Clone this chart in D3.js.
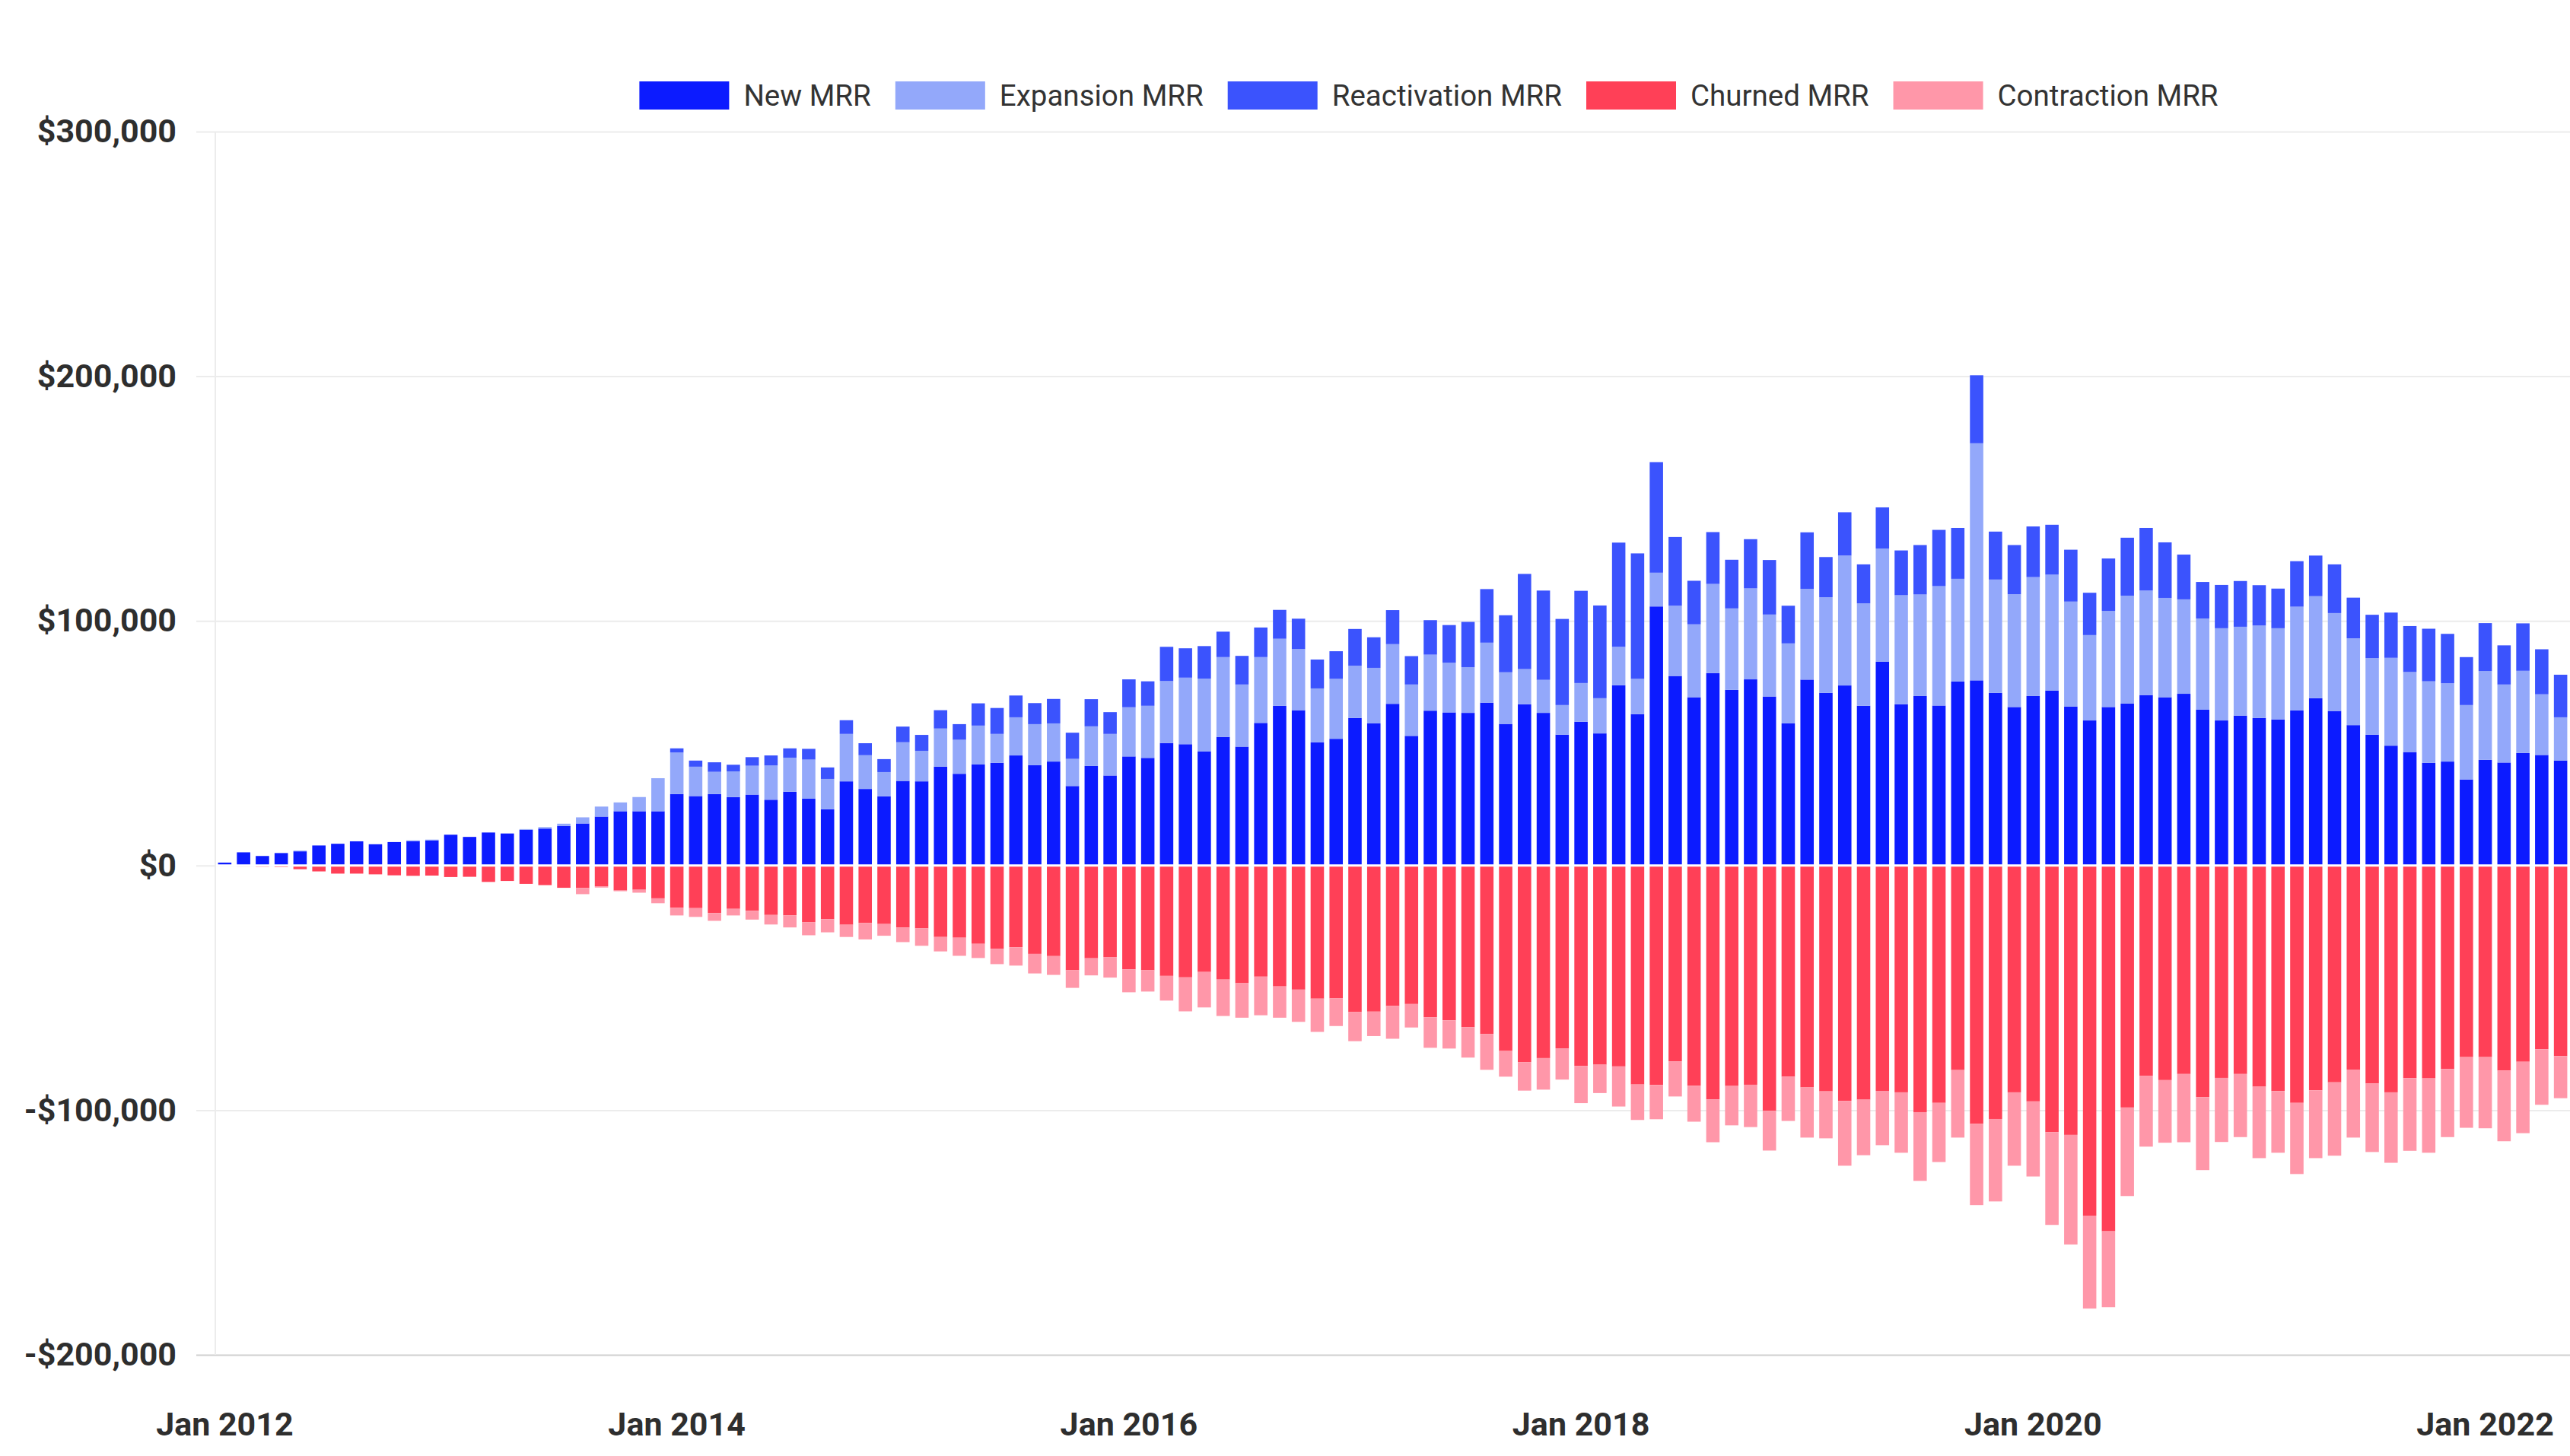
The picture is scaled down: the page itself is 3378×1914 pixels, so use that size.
<!DOCTYPE html>
<html><head><meta charset="utf-8">
<script src="https://cdn.jsdelivr.net/npm/d3@7"></script>
<style>
html,body{margin:0;padding:0;background:#fff;}
svg{display:block;}
</style></head>
<body>
<svg id="chart" width="3378" height="1914"></svg>
<script>
// ---- data (values in thousands of dollars, monthly from Jan 2012) ----
const startDate = new Date(2012, 0, 1);
const monthCount = 125;
const newMRR = [1.2,5.4,3.9,5.1,5.8,8.2,8.9,9.9,8.7,9.6,
 10.0,10.3,12.6,11.7,13.5,13.1,14.6,15.1,16.2,17.2,
 20.0,22.2,22.2,22.2,29.2,28.4,29.2,28.0,29.0,26.9,
 30.2,27.3,23.0,34.4,31.3,28.3,34.6,34.4,40.4,37.5,
 41.3,42.0,45.0,41.0,42.5,32.5,40.7,36.8,44.6,44.0,
 50.1,49.6,46.7,52.6,48.6,58.3,65.3,63.5,50.4,51.8,
 60.3,58.1,66.1,53.0,63.3,62.6,62.4,66.6,57.9,65.9,
 62.4,53.5,58.8,54.0,73.7,61.9,105.9,77.5,68.8,78.7,
 71.8,76.1,69.1,58.1,76.0,70.6,73.6,65.3,83.3,65.9,
 69.3,65.4,75.2,75.7,70.6,64.8,69.3,71.5,65.0,59.3,
 64.8,66.2,69.7,68.8,70.2,63.7,59.3,61.3,60.3,59.7,
 63.4,68.4,63.2,57.4,53.5,49.0,46.4,42.0,42.5,35.2,
 43.2,42.1,46.0,45.2,42.9];
const expansionMRR = [0,0,0,0,0.3,0,0,0,0,0,
 0.3,0.3,0,0,0,0,0.3,0.6,0.9,2.5,
 4.1,3.6,5.8,13.5,17.0,12.0,9.1,10.5,11.8,14.0,
 13.9,16.0,12.4,19.4,13.8,9.9,15.8,12.5,15.6,13.9,
 15.9,11.8,15.6,16.8,15.6,11.1,16.2,17.0,20.1,21.3,
 25.3,27.2,29.7,32.6,25.4,26.9,27.4,25.0,22.0,24.5,
 21.4,22.7,24.4,21.0,22.9,20.3,18.7,24.5,21.1,14.4,
 13.5,12.1,15.8,14.4,15.7,14.4,13.8,28.7,29.8,36.4,
 33.3,37.2,33.5,32.7,37.1,39.1,53.1,41.9,46.3,44.6,
 41.5,48.8,42.0,96.9,46.3,46.1,48.6,47.4,42.9,34.9,
 39.3,44.1,42.7,40.6,38.6,37.3,37.7,36.3,37.8,37.3,
 42.4,41.7,40.0,35.5,31.3,35.9,32.7,33.3,32.0,30.4,
 36.3,31.9,33.6,24.8,17.7];
const reactivationMRR = [0,0,0,0,0,0,0,0,0,0,
 0,0,0,0,0,0,0,0,0,0,
 0,0,0,0,1.7,2.5,3.9,2.7,3.5,4.1,
 3.8,4.4,4.7,5.6,4.9,5.3,6.4,6.5,7.5,6.4,
 9.1,10.6,8.9,8.6,10.0,10.7,11.1,8.9,11.4,10.0,
 14.0,12.0,13.3,10.4,11.7,12.1,11.8,12.4,11.8,11.3,
 15.0,12.5,13.9,11.6,14.1,15.4,18.5,21.9,23.3,38.9,
 36.5,35.2,37.7,37.9,42.6,51.3,45.2,28.1,17.8,21.2,
 19.9,20.1,22.3,15.4,23.1,16.4,17.7,15.9,16.8,18.3,
 20.2,23.0,20.8,27.8,19.6,20.1,20.7,20.4,21.2,17.3,
 21.4,23.7,25.6,22.7,18.3,14.9,17.7,18.7,16.5,16.2,
 18.6,16.6,19.9,16.6,17.7,18.5,18.8,21.5,20.2,19.6,
 19.6,16.0,19.4,18.4,17.4];
const churnedMRR = [0,0.4,0.1,0.6,1.5,2.4,3.3,3.3,3.6,4.0,
 4.2,4.1,4.7,4.6,6.7,6.3,7.5,8.0,9.1,9.2,
 8.5,10.2,9.9,13.4,17.2,17.4,19.4,17.7,18.5,20.2,
 20.4,23.2,21.9,24.2,23.5,23.9,25.3,25.7,29.2,29.5,
 32.0,34.0,33.4,36.1,37.0,42.8,37.9,37.4,42.4,42.8,
 45.1,45.7,43.5,46.6,48.1,45.4,49.4,50.7,54.4,54.3,
 59.9,59.7,57.4,56.6,62.0,63.3,66.1,68.9,75.8,80.4,
 78.7,74.7,81.9,81.4,82.1,89.5,89.7,80.0,90.0,95.6,
 90.1,89.6,100.3,86.3,90.7,92.3,96.2,95.7,92.1,92.7,
 100.8,97.0,83.6,105.6,103.6,92.7,96.4,109.0,110.1,143.1,
 149.5,98.9,85.9,87.7,85.2,94.7,86.8,85.2,90.4,92.2,
 97.0,91.9,88.6,83.4,89.1,92.7,86.9,87.0,83.2,78.3,
 78.3,83.8,80.2,75.1,77.9];
const contractionMRR = [0,0,0.5,0,0,0,0,0,0,0,
 0,0,0,0,0,0,0,0,0,2.5,
 0.5,0.3,1.2,2.0,3.2,3.6,3.2,2.7,3.6,3.9,
 4.9,5.3,5.4,5.0,6.7,4.8,6.0,7.1,5.9,7.4,
 5.8,6.3,7.5,8.0,7.7,7.2,7.0,8.4,9.4,8.7,
 10.1,13.9,14.5,14.9,14.1,15.8,12.8,13.2,13.6,11.3,
 11.9,10.0,13.4,9.6,12.5,11.5,12.4,14.6,10.5,11.6,
 12.9,12.8,15.2,11.6,16.4,14.5,14.0,14.4,14.7,17.5,
 16.1,17.3,16.2,18.1,20.5,19.2,26.5,22.7,22.2,24.7,
 28.1,24.2,27.6,33.2,33.7,30.0,30.7,37.9,44.8,38.0,
 31.0,36.2,29.0,25.6,27.9,29.8,26.2,25.8,29.2,25.2,
 29.1,27.7,30.0,27.8,28.0,28.8,29.7,30.4,27.8,28.9,
 29.1,28.9,29.2,22.7,17.2];
const seriesNames = ["New MRR","Expansion MRR","Reactivation MRR","Churned MRR","Contraction MRR"];
const seriesKeys = ["newMRR","expansionMRR","reactivationMRR","churnedMRR","contractionMRR"];
const seriesColors = ["#0c1bff","#93a8fa","#3b53fd","#ff4057","#ff97a9"];
const yTickValues = [-200000,-100000,0,100000,200000,300000];
const xTickLabels = ["Jan 2012","Jan 2014","Jan 2016","Jan 2018","Jan 2020","Jan 2022"];

// ---- build table ----
const months = d3.range(monthCount).map(i => d3.timeMonth.offset(startDate, i));
const rows = months.map((m, i) => ({
  month: m,
  newMRR: newMRR[i]*1000,
  expansionMRR: expansionMRR[i]*1000,
  reactivationMRR: reactivationMRR[i]*1000,
  churnedMRR: -churnedMRR[i]*1000,
  contractionMRR: -contractionMRR[i]*1000
}));

const W = 3378, H = 1914;
const plot = {left: 283, right: 3378, top: 173, bottom: 1781};
const FONT = "Roboto, 'Noto Sans', sans-serif";

const svg = d3.select("#chart");
svg.append("rect").attr("width", W).attr("height", H).attr("fill", "#fff");

const x = d3.scaleBand().domain(months).range([plot.left, plot.right])
  .paddingInner(0.29).paddingOuter(0.145);
const y = d3.scaleLinear().domain([-200000, 300000]).range([plot.bottom, plot.top]);

// ---- y axis + gridlines ----
const fmt = d3.format(",");
const yAxis = d3.axisLeft(y).tickValues(yTickValues)
  .tickSize(-(plot.right - 258)).tickPadding(26)
  .tickFormat(d => (d < 0 ? "-" : "") + "$" + fmt(Math.abs(d)));
const gy = svg.append("g").attr("transform", "translate(258,0)").call(yAxis);
gy.select(".domain").remove();
gy.selectAll(".tick line").attr("stroke", "#ececec").attr("stroke-width", 2);
gy.selectAll(".tick").filter(d => d === -200000).select("line").attr("stroke", "#d0d0d0");
gy.selectAll(".tick text").attr("fill", "#2e2e2e").style("font-family", FONT)
  .style("font-size", "43px").style("font-weight", "700");

// left vertical axis line
svg.append("line").attr("x1", plot.left).attr("x2", plot.left)
  .attr("y1", plot.top).attr("y2", plot.bottom)
  .attr("stroke", "#ececec").attr("stroke-width", 2);

// ---- stacked bars ----
const stack = d3.stack().keys(seriesKeys).offset(d3.stackOffsetDiverging);
const layers = stack(rows);
const color = d3.scaleOrdinal().domain(seriesKeys).range(seriesColors);

svg.append("g").selectAll("g").data(layers).join("g")
  .attr("fill", d => color(d.key))
  .selectAll("rect").data(d => d).join("rect")
  .attr("x", d => x(d.data.month))
  .attr("width", x.bandwidth())
  .attr("y", d => y(Math.max(d[0], d[1])))
  .attr("height", d => Math.abs(y(d[0]) - y(d[1])));

// white separation at zero
svg.append("line").attr("x1", plot.left + 1).attr("x2", plot.right)
  .attr("y1", y(0)).attr("y2", y(0)).attr("stroke", "#fff").attr("stroke-width", 3);

// ---- x axis ----
const xTickMonths = months.filter((m, i) => i % 24 === 0);
const xAxis = d3.axisBottom(x).tickValues(xTickMonths).tickSize(0).tickPadding(75)
  .tickFormat((d, i) => xTickLabels[i]);
const gx = svg.append("g").attr("transform", `translate(0,${plot.bottom})`).call(xAxis);
gx.select(".domain").remove();
gx.selectAll(".tick text").attr("fill", "#2e2e2e").style("font-family", FONT)
  .style("font-size", "43px").style("font-weight", "700");

// ---- legend ----
const swW = 118, swH = 37, legendTop = 107, gapST = 19, gapItem = 32;
const legend = svg.append("g");
let lx = 0;
seriesNames.forEach((name, k) => {
  const g = legend.append("g").attr("transform", `translate(${lx},0)`);
  g.append("rect").attr("x", 0).attr("y", legendTop).attr("width", swW).attr("height", swH)
    .attr("fill", seriesColors[k]);
  const t = g.append("text").attr("x", swW + gapST).attr("y", legendTop + swH / 2)
    .attr("dy", "0.35em").attr("fill", "#333").style("font-family", FONT)
    .style("font-size", "38.5px").text(name);
  lx += swW + gapST + t.node().getComputedTextLength() + gapItem;
});
const legendW = lx - gapItem;
legend.attr("transform", `translate(${1878 - legendW / 2},0)`);
</script>
</body></html>
